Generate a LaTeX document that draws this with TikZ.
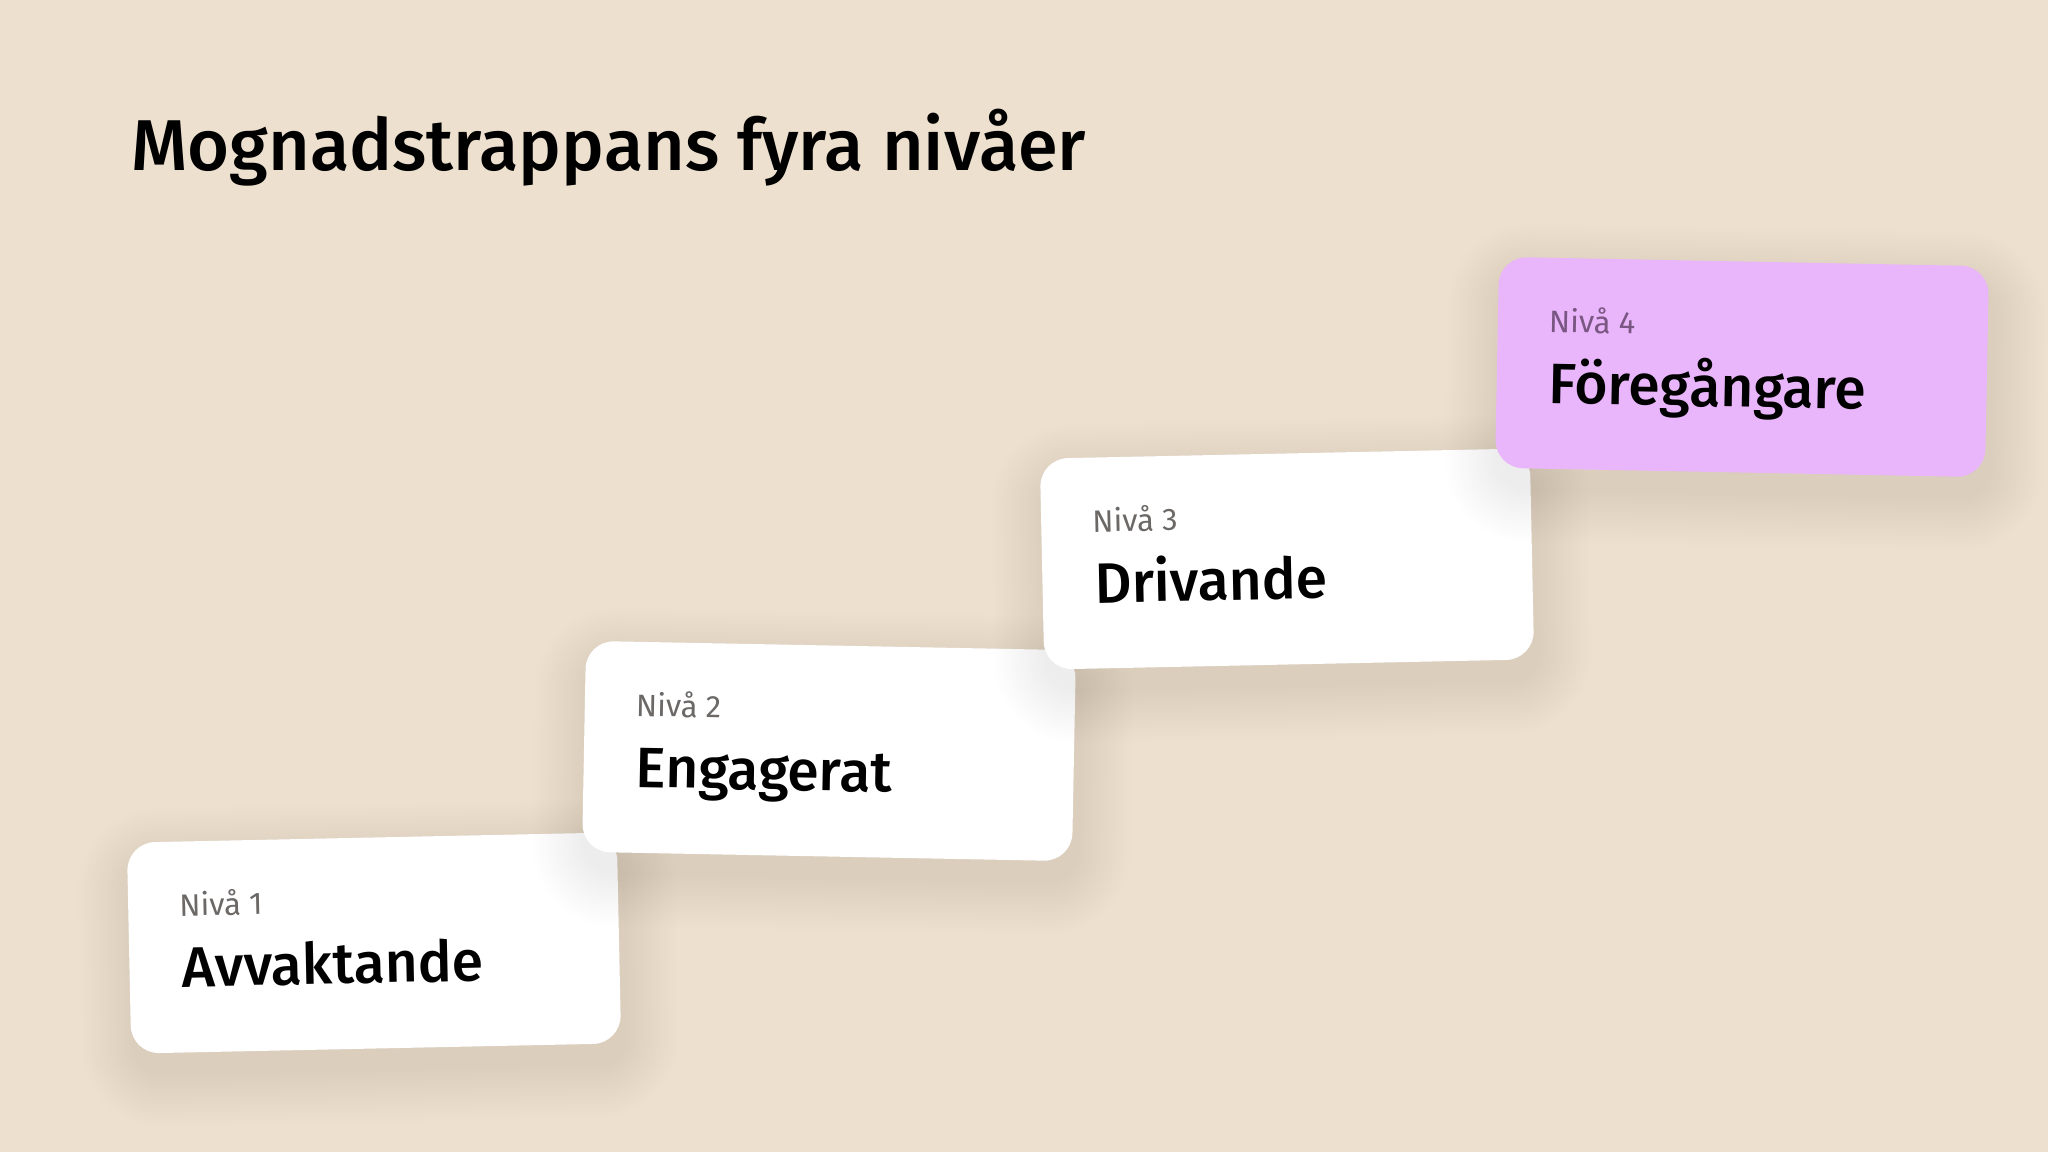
\documentclass[tikz,border=0pt]{standalone}
\usepackage{fontspec}
\setmainfont{Fira Sans}
\newfontfamily\medfont{Fira Sans Medium}
\definecolor{bg}{HTML}{EDE0CF}
\definecolor{pinkcard}{HTML}{E9B6FB}
\definecolor{lvlgray}{HTML}{6B6866}
\definecolor{lvlpink}{HTML}{7A5682}
\newcommand\mycardshadow{%
  \foreach \i in {1,...,18}{%
    \pgfmathsetmacro\ee{3*\i}%
    \pgfmathsetmacro\rr{28+3*\i}%
    \fill[black, opacity=0.0045, rounded corners=\rr pt]
      (-245-\ee+4, -105.5-\ee+20) rectangle (245+\ee+4, 105.5+\ee+20);
  }%
}
\begin{document}
\begin{tikzpicture}[x=1pt,y=-1pt,
  cardbox/.style={rounded corners=28pt, minimum width=490pt, minimum height=211pt,
    inner sep=0pt, fill=white, transform shape},
  lvltext/.style={anchor=base west, inner sep=0pt, transform shape,
    font=\fontsize{31}{34}\selectfont, text=lvlgray},
  nametext/.style={anchor=base west, inner sep=0pt, transform shape,
    font=\medfont\fontsize{57}{64}\selectfont, text=black},
  titletext/.style={anchor=base west, inner sep=0pt,
    font=\medfont\fontsize{72}{80}\selectfont, text=black}]
\fill[bg] (0,0) rectangle (2048,1152);
\useasboundingbox (0,0) rectangle (2048,1152);
\node[titletext] (title) at (131,170) {Mognadstrappans fyra nivåer};
% card 1
\begin{scope}[shift={(374,943)}, rotate=1.2]
  \mycardshadow
  \node[cardbox] (c1) at (0,0) {};
  \node[lvltext] (l1) at (-194,-31) {Nivå 1};
  \node[nametext] (n1) at (-193,40) {Avvaktande};
\end{scope}
% card 2
\begin{scope}[shift={(829,751)}, rotate=-1.1]
  \mycardshadow
  \node[cardbox] (c2) at (0,0) {};
  \node[lvltext] (l2) at (-194,-31) {Nivå 2};
  \node[nametext] (n2) at (-193,40) {Engagerat};
\end{scope}
% card 3
\begin{scope}[shift={(1287,559)}, rotate=1.2]
  \mycardshadow
  \node[cardbox] (c3) at (0,0) {};
  \node[lvltext] (l3) at (-194,-31) {Nivå 3};
  \node[nametext] (n3) at (-193,40) {Drivande};
\end{scope}
% card 4
\begin{scope}[shift={(1742,367)}, rotate=-1.1]
  \mycardshadow
  \node[cardbox, fill=pinkcard] (c4) at (0,0) {};
  \node[lvltext, text=lvlpink] (l4) at (-194,-31) {Nivå 4};
  \node[nametext] (n4) at (-193,40) {Föregångare};
\end{scope}
\end{tikzpicture}
\end{document}
